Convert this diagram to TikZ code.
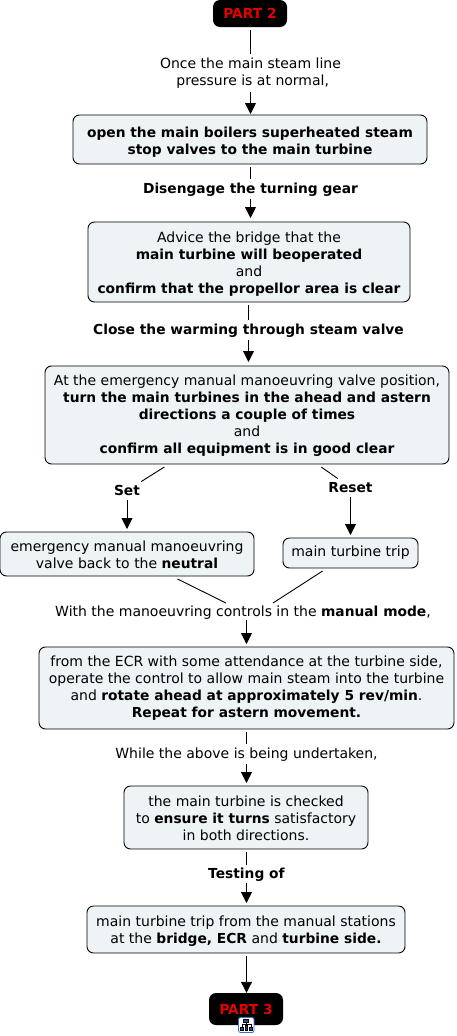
\documentclass[tikz,border=0pt]{standalone}
\usepackage{fontspec}
\setmainfont[BoldFeatures={Scale=0.985}]{DejaVu Sans}
\usetikzlibrary{arrows.meta}
\definecolor{boxfill}{HTML}{EEF3F6}
\newcommand{\dn}[1]{\rule{0pt}{#1pt}}
\tikzset{
  x=1pt,y=-1pt,
  every node/.style={font=\fontsize{14}{17}\selectfont,align=center,inner sep=0pt},
  cbox/.style={draw=black,fill=boxfill,line width=0.9pt,rounded corners=6.5pt,anchor=center,outer sep=3pt},
  lab/.style={anchor=center,outer sep=0pt},
  part/.style={fill=black,text=red!90!black,rounded corners=7pt,font=\fontsize{14}{17}\selectfont\bfseries},
  link/.style={line width=0.9pt},
  arr/.style={line width=0.9pt,-{Triangle[width=11pt,length=11pt]}},
}
\begin{document}
\begin{tikzpicture}
\useasboundingbox (0,0) rectangle (456,1036);
% boxes
\node[part,minimum width=74pt,minimum height=27pt] (p2) at (250,13.5) {PART 2};
\node[cbox,minimum width=354pt,minimum height=49pt] (b1) at (250,139.5) {\dn{15.6}\textbf{open the main boilers superheated steam}\\\textbf{stop valves to the main turbine}};
\node[cbox,minimum width=322pt,minimum height=80pt] (b2) at (249,262) {\dn{14.6}Advice the bridge that the\\\textbf{main turbine will beoperated}\\and\\\textbf{confirm that the propellor area is clear}};
\node[cbox,minimum width=404pt,minimum height=98pt] (b3) at (247,415) {\dn{12.6}At the emergency manual manoeuvring valve position,\\\textbf{turn the main turbines in the ahead and astern}\\\textbf{directions a couple of times}\\and\\\textbf{confirm all equipment is in good clear}};
\node[cbox,minimum width=254pt,minimum height=44pt] (b4) at (127,554) {\dn{11.6}emergency manual manoeuvring\\valve back to the \textbf{neutral}};
\node[cbox,minimum width=135pt,minimum height=30pt] (b5) at (350.5,553) {main turbine trip};
\node[cbox,minimum width=415pt,minimum height=82pt] (b6) at (246.5,688) {from the ECR with some attendance at the turbine side,\\operate the control to allow main steam into the turbine\\and \textbf{rotate ahead at approximately 5 rev/min}.\\\textbf{Repeat for astern movement.}};
\node[cbox,minimum width=244pt,minimum height=63pt] (b7) at (246,817.5) {\dn{12.6}the main turbine is checked\\to \textbf{ensure it turns} satisfactory\\in both directions.};
\node[cbox,minimum width=318pt,minimum height=47pt] (b8) at (246,929.5) {\dn{13.6}main turbine trip from the manual stations\\at the \textbf{bridge, ECR} and \textbf{turbine side.}};
\node[part,minimum width=74pt,minimum height=32pt] (p3) at (246,1009) {PART 3};
% labels
\node[lab,minimum height=38pt] (l1) at (250.5,73) {Once the main steam line\\\ pressure is at normal,};
\node[lab,minimum height=20pt] (l2) at (250.5,188.5) {\dn{12.6}\textbf{Disengage the turning gear}};
\node[lab,minimum height=20pt] (l3) at (248.5,329.5) {\dn{12.6}\textbf{Close the warming through steam valve}};
\node[lab,minimum width=30pt,minimum height=18pt] (lset) at (127,490.5) {\textbf{Set}};
\node[lab,minimum width=46pt,minimum height=18pt] (lreset) at (350.5,487.5) {\textbf{Reset}};
\node[lab,minimum height=17pt] (l4) at (243,611.5) {\dn{12.6}With the manoeuvring controls in the \textbf{manual mode},};
\node[lab,minimum height=20pt] (l5) at (246.5,753.5) {\dn{12.6}While the above is being undertaken,};
\node[lab,minimum height=18pt] (l6) at (246.5,873.5) {\dn{12.6}\textbf{Testing of}};
% connectors
\draw[link] (l1.north |- 0,30) -- (l1.north);
\draw[arr] (l1.south) -- ([yshift=-2pt]b1.north -| l1.south);
\draw[link] (b1.south -| l2.north) -- (l2.north);
\draw[arr] (l2.south) -- ([yshift=1pt]b2.north -| l2.south);
\draw[link] (b2.south -| l3.north) -- (l3.north);
\draw[arr] (l3.south) -- ([yshift=1pt]b3.north -| l3.south);
\draw[link] (b3) -- (lset);
\draw[arr] (lset) -- (b4.north -| lset);
\draw[link] (b3) -- (lreset);
\draw[arr] (lreset) -- (b5.north -| lreset);
\draw[link] (b4) -- ([xshift=-17pt]l4.north);
\draw[link] (b5) -- ([xshift=30pt]l4.north);
\draw[arr] ([xshift=3.5pt]l4.south) -- (b6.north -| 246.5,0);
\draw[link] (b6.south -| l5.north) -- (l5.north);
\draw[arr] (l5.south) -- (b7.north -| l5.south);
\draw[link] (b7.south -| l6.north) -- (l6.north);
\draw[arr] (l6.south) -- (b8.north -| l6.south);
\draw[arr] (b8.south -| l6.south) -- (p3.north -| l6.south);
% icon
\draw[draw={rgb,255:red,60;green,110;blue,200},fill=white,line width=0.8pt,rounded corners=2pt] (238.5,1017.5) rectangle (254,1032.5);
\begin{scope}[draw=black,fill={rgb,255:red,50;green,70;blue,150},line width=0.5pt]
\filldraw (243.5,1019.5) rectangle (248.5,1022);
\filldraw (240.5,1027) rectangle (243,1030);
\filldraw (245,1025) rectangle (247.5,1030);
\filldraw (249.5,1027) rectangle (252,1030);
\draw (246,1022) -- (246,1025) (241.8,1027) -- (241.8,1024.5) -- (250.8,1024.5) -- (250.8,1027);
\end{scope}
\end{tikzpicture}
\end{document}
